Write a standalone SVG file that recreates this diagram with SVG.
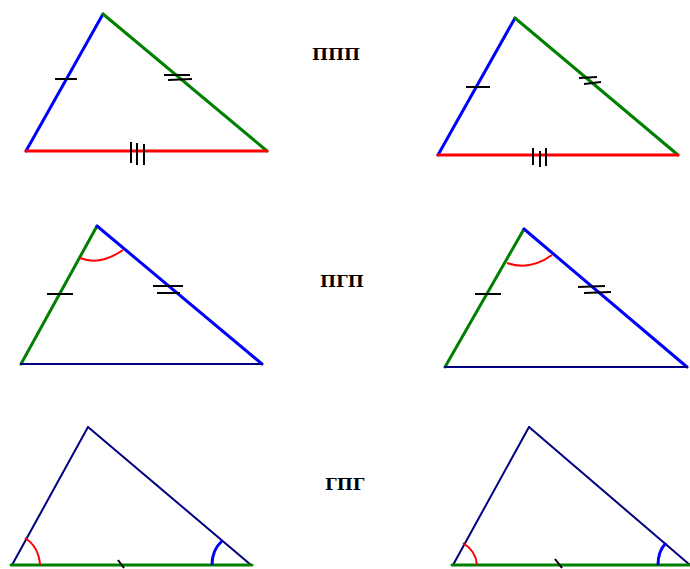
<svg xmlns="http://www.w3.org/2000/svg" width="690" height="569" viewBox="0 0 690 569">
<style>
.t{font-family:"DejaVu Serif","Liberation Serif",serif;font-weight:bold;font-size:17px;fill:#000}
.s{fill:none;stroke-linecap:round}
.th{stroke-width:3}
.tn{stroke-width:2}
.b{stroke:#0000ff}
.g{stroke:#008000}
.r{stroke:#ff0000}
.n{stroke:#000080}
.k{stroke:#000;stroke-width:2;fill:none}
.ar{stroke:#ff0000;stroke-width:2;fill:none}
.ab{stroke:#0000ff;stroke-width:3;fill:none}
</style>
<rect width="690" height="569" fill="#fff"/>
<g id="sss-left">
<line class="s th b" x1="26" y1="151" x2="103" y2="14"/>
<line class="s th g" x1="103" y1="14" x2="267" y2="151"/>
<line class="s th r" x1="26" y1="151" x2="267" y2="151"/>
<line class="k" x1="55" y1="79" x2="77" y2="79"/>
<path class="k" d="M164 75 L190 75 M168 80 L192 79"/>
<path class="k" d="M131 142 V163 M137 143 V165 M144 144 V165"/>
</g>
<g id="sss-right">
<line class="s th b" x1="438" y1="155" x2="515" y2="18"/>
<line class="s th g" x1="515" y1="18" x2="678" y2="155"/>
<line class="s th r" x1="438" y1="155" x2="678" y2="155"/>
<line class="k" x1="466" y1="87" x2="490" y2="87"/>
<path class="k" d="M579 78 L597 77 M584 84 L601 82"/>
<path class="k" d="M533 148 V165 M540 151 V167 M546 148 V166"/>
</g>
<g id="label-sss"><text class="t" x="312" y="60">ППП</text></g>
<g id="sas-left">
<line class="s th g" x1="21" y1="364" x2="97" y2="226"/>
<line class="s th b" x1="97" y1="226" x2="262" y2="364"/>
<line class="s tn n" x1="21" y1="364" x2="262" y2="364"/>
<path class="ar" d="M80 258 Q100 266 123 250"/>
<line class="k" x1="47" y1="294" x2="73" y2="294"/>
<path class="k" d="M153 286 L183 286 M157 293 L180 293"/>
</g>
<g id="sas-right">
<line class="s th g" x1="445" y1="367" x2="524" y2="229"/>
<line class="s th b" x1="524" y1="229" x2="687" y2="367"/>
<line class="s tn n" x1="445" y1="367" x2="687" y2="367"/>
<path class="ar" d="M507 263 Q530 271 552 255"/>
<line class="k" x1="475" y1="294" x2="501" y2="294"/>
<path class="k" d="M578 287 L605 286 M584 293 L611 292"/>
</g>
<g id="label-sas"><text class="t" x="320" y="287">ПГП</text></g>
<g id="asa-left">
<line class="s tn n" x1="12" y1="565" x2="88" y2="427"/>
<line class="s tn n" x1="88" y1="427" x2="251" y2="565"/>
<line class="s th g" x1="11" y1="565" x2="252" y2="565"/>
<path class="ar" d="M25 538 Q39 547 40 565"/>
<path class="ab" d="M222 541 Q212 550 212 565"/>
<line class="k" x1="118" y1="560" x2="124" y2="568"/>
</g>
<g id="asa-right">
<line class="s tn n" x1="453" y1="565" x2="529" y2="427"/>
<line class="s tn n" x1="529" y1="427" x2="690" y2="565"/>
<line class="s th g" x1="452" y1="565" x2="690" y2="565"/>
<path class="ar" d="M463 543 Q476 551 477 565"/>
<path class="ab" d="M666 543 Q658 551 658 565"/>
<line class="k" x1="555" y1="559" x2="562" y2="568"/>
</g>
<g id="label-asa"><text class="t" x="325" y="490">ГПГ</text></g>
<g id="connectors"></g>
</svg>
